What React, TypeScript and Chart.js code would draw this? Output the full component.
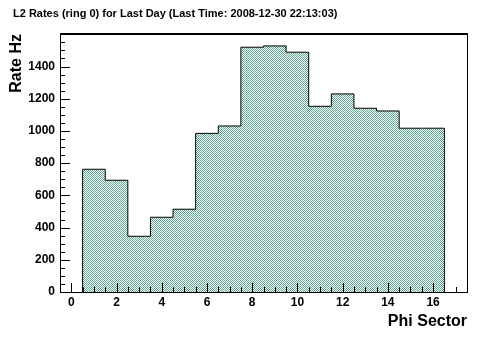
import React, { useEffect, useRef } from 'react';
import { Chart, registerables } from 'chart.js';

Chart.register(...registerables);

const titleText = 'L2 Rates (ring 0) for Last Day (Last Time: 2008-12-30 22:13:03)';
const xAxisTitle = 'Phi Sector';
const yAxisTitle = 'Rate Hz';

const phiSectors = [1, 2, 3, 4, 5, 6, 7, 8, 9, 10, 11, 12, 13, 14, 15, 16];
const rates = [762, 694, 346, 464, 514, 985, 1031, 1520, 1528, 1489, 1153, 1230, 1141, 1124, 1017, 1017];

const xTickValues = [0, 2, 4, 6, 8, 10, 12, 14, 16];
const yTickValues = [0, 200, 400, 600, 800, 1000, 1200, 1400];
const xRange = [-0.5, 17.5];
const yRange = [0, 1602];

const FONT = "'Liberation Sans', Arial, Helvetica, sans-serif";

function makePattern(): CanvasPattern | string {
  const c = document.createElement('canvas');
  c.width = 2;
  c.height = 2;
  const g = c.getContext('2d');
  if (!g) return '#b0d6c8';
  g.fillStyle = '#ffffff';
  g.fillRect(0, 0, 2, 2);
  g.fillStyle = 'rgb(90,168,140)';
  g.fillRect(0, 0, 1, 1);
  g.fillRect(1, 1, 1, 1);
  const p = g.createPattern(c, 'repeat');
  return p || '#b0d6c8';
}

const rootPlugin = {
  id: 'rootDecor',
  afterDraw(chart: any) {
    const ctx = chart.ctx as CanvasRenderingContext2D;
    const { left, right, top, bottom } = chart.chartArea;
    const xs = chart.scales.x;
    const ys = chart.scales.y;
    ctx.save();
    ctx.strokeStyle = '#000';
    ctx.lineWidth = 1;
    ctx.beginPath();
    for (let v = xRange[0]; v <= xRange[1] + 1e-9; v += 0.5) {
      const px = Math.round(xs.getPixelForValue(v)) + 0.5;
      const major = xTickValues.includes(v);
      const len = major ? 9 : 5;
      ctx.moveTo(px, bottom);
      ctx.lineTo(px, bottom - len);
    }
    for (let v = 0; v <= yRange[1]; v += 50) {
      const py = Math.round(ys.getPixelForValue(v)) + 0.5;
      const major = yTickValues.includes(v);
      const len = major ? 10 : 5;
      ctx.moveTo(left, py);
      ctx.lineTo(left + len, py);
    }
    ctx.stroke();
    ctx.beginPath();
    ctx.moveTo(left + 0.5, bottom + 0.5);
    ctx.lineTo(left + 0.5, top);
    ctx.moveTo(right + 0.5, top);
    ctx.lineTo(right + 0.5, bottom + 0.5);
    ctx.moveTo(left, bottom + 0.5);
    ctx.lineTo(right + 1, bottom + 0.5);
    ctx.stroke();
    ctx.lineWidth = 2;
    ctx.beginPath();
    ctx.moveTo(left, top);
    ctx.lineTo(right + 1, top);
    ctx.stroke();
    ctx.fillStyle = '#000';
    ctx.font = `bold 11px ${FONT}`;
    ctx.textAlign = 'left';
    ctx.textBaseline = 'alphabetic';
    ctx.fillText(titleText, 13, 17);
    ctx.restore();
  },
};

export default function App() {
  const ref = useRef<HTMLCanvasElement | null>(null);
  useEffect(() => {
    if (!ref.current) return;
    const pattern = makePattern();
    const last = phiSectors.length - 1;
    const stepPoints = [
      { x: phiSectors[0] - 0.5, y: 0 },
      ...phiSectors.map((s, i) => ({ x: s - 0.5, y: rates[i] })),
      { x: phiSectors[last] + 0.5, y: rates[last] },
      { x: phiSectors[last] + 0.5, y: 0 },
    ];
    const chart = new Chart(ref.current, {
      type: 'line',
      data: {
        datasets: [
          {
            label: 'L2 Rates',
            data: stepPoints,
            stepped: 'before',
            borderColor: '#000',
            borderWidth: 1,
            backgroundColor: pattern as any,
            fill: 'origin',
            pointRadius: 0,
            tension: 0,
          },
        ],
      },
      options: {
        animation: false,
        responsive: false,
        devicePixelRatio: 1,
        layout: { padding: { left: 0, right: 25, top: 34, bottom: 0 } },
        plugins: {
          legend: { display: false },
          tooltip: { enabled: false },
          title: { display: false },
        },
        scales: {
          x: {
            type: 'linear',
            min: xRange[0],
            max: xRange[1],
            afterBuildTicks: (scale: any) => {
              scale.ticks = xTickValues.map((v) => ({ value: v }));
            },
            afterFit: (scale: any) => {
              scale.height = 52;
            },
            grid: { display: false, drawTicks: false },
            border: { display: false },
            ticks: {
              color: '#000',
              font: { family: FONT, size: 12, weight: 'bold' },
              padding: 3,
              maxRotation: 0,
              autoSkip: false,
              callback: (v: any) => String(v),
            },
            title: {
              display: true,
              text: xAxisTitle,
              align: 'end',
              color: '#000',
              font: { family: FONT, size: 16, weight: 'bold' },
              padding: { top: 0, bottom: 13 },
            },
          },
          y: {
            type: 'linear',
            min: yRange[0],
            max: yRange[1],
            afterBuildTicks: (scale: any) => {
              scale.ticks = yTickValues.map((v) => ({ value: v }));
            },
            afterFit: (scale: any) => {
              scale.width = 60;
            },
            grid: { display: false, drawTicks: false },
            border: { display: false },
            ticks: {
              color: '#000',
              font: { family: FONT, size: 12, weight: 'bold' },
              padding: 5,
              autoSkip: false,
              callback: (v: any) => String(v),
            },
            title: {
              display: true,
              text: yAxisTitle,
              align: 'end',
              color: '#000',
              font: { family: FONT, size: 16, weight: 'bold' },
              padding: { top: 7, bottom: 0 },
            },
          },
        },
      },
      plugins: [rootPlugin],
    });
    return () => chart.destroy();
  }, []);
  return (
    <div style={{ position: 'absolute', left: 0, top: 0, width: 492, height: 344, background: '#fff' }}>
      <canvas ref={ref} width={492} height={344} />
    </div>
  );
}
